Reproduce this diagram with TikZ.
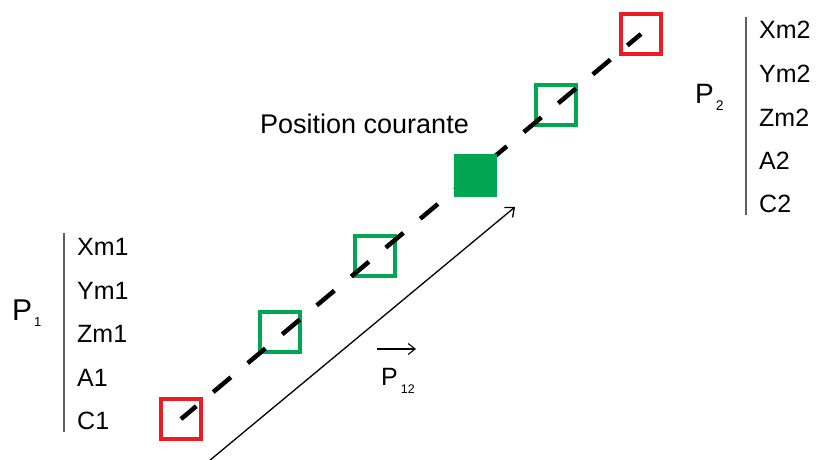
\documentclass[tikz,border=0pt]{standalone}
\usepackage{fontspec}
\setmainfont{Liberation Sans}
\usepackage{xcolor}
\definecolor{ptred}{RGB}{237,28,36}
\definecolor{ptgreen}{RGB}{0,166,81}
\definecolor{ptgray}{RGB}{95,95,95}
\usetikzlibrary{arrows.meta, positioning}
\newcommand{\labfont}{\fontsize{25}{30}\selectfont}
\tikzset{
  pointbox/.style={draw, line width=4pt, minimum size=40pt, inner sep=0pt},
  curbox/.style={fill=ptgreen, minimum size=43pt, inner sep=0pt},
  trajline/.style={line width=4.5pt, dash pattern=on 23pt off 22pt, dash phase=3pt},
  vecline/.style={line width=1.3pt, -{Straight Barb[length=7.5pt, width=13pt]}},
  barline/.style={ptgray, line width=1.5pt},
  coordlabel/.style={font=\labfont, inner sep=0pt, anchor=west}
}

\begin{document}
\begin{tikzpicture}[x=1pt, y=-1pt]
  \useasboundingbox (0,0) rectangle (817,459);

  % Points along the path
  \node[pointbox, draw=ptred] (pstart) at (181,419) {};
  \node[pointbox, draw=ptgreen] (pmid1) at (280,332) {};
  \node[pointbox, draw=ptgreen] (pmid2) at (375,256) {};
  \node[pointbox, draw=ptgreen] (pmid3) at (556,105) {};
  \node[pointbox, draw=ptred] (pend) at (641,34) {};
  \draw[trajline] (pstart.center) -- (pend.center);
  \node[curbox] (pcur) at (475,175) {};
  \node[font=\fontsize{27}{32}\selectfont, inner sep=0pt, anchor=base west] (poscour) at (260,133) {Position courante};

  % Displacement vector
  \coordinate (vstart) at (209,461);
  \coordinate (vend) at (515,207);
  \draw[vecline] (vstart) -- (vend);
  \coordinate (v12a) at (377,349);
  \coordinate (v12b) at (416,349);
  \draw[line width=1.1pt, -{Straight Barb[length=7pt, width=11pt]}] (v12a) -- (v12b);
  \node[inner sep=0pt, anchor=base west] (p12) at (381,385) {\fontsize{25}{30}\selectfont P\hspace{3pt}\raisebox{-8pt}{\fontsize{12.5}{12.5}\selectfont 12}};

  % Point P1
  \node[inner sep=0pt, anchor=base west] (p1) at (12,320) {\fontsize{30}{36}\selectfont P\hspace{2pt}\raisebox{-6pt}{\fontsize{13}{13}\selectfont 1}};
  \coordinate (bar1top) at (64,233);
  \coordinate (bar1bot) at (64,432);
  \draw[barline] (bar1top) -- (bar1bot);
  \node[coordlabel] (xm1) at (77,247) {Xm1};
  \node[coordlabel] (ym1) at (77,291) {Ym1};
  \node[coordlabel] (zm1) at (77,334) {Zm1};
  \node[coordlabel] (a1) at (77,378) {A1};
  \node[coordlabel] (c1) at (77,421) {C1};

  % Point P2
  \node[inner sep=0pt, anchor=base west] (p2) at (695,103) {\fontsize{28}{34}\selectfont P\hspace{2pt}\raisebox{-7pt}{\fontsize{14}{14}\selectfont 2}};
  \coordinate (bar2top) at (746,17);
  \coordinate (bar2bot) at (746,215);
  \draw[barline] (bar2top) -- (bar2bot);
  \node[coordlabel] (xm2) at (759,30) {Xm2};
  \node[coordlabel] (ym2) at (759,74) {Ym2};
  \node[coordlabel] (zm2) at (759,118) {Zm2};
  \node[coordlabel] (a2) at (759,161) {A2};
  \node[coordlabel] (c2) at (759,204) {C2};
\end{tikzpicture}
\end{document}
